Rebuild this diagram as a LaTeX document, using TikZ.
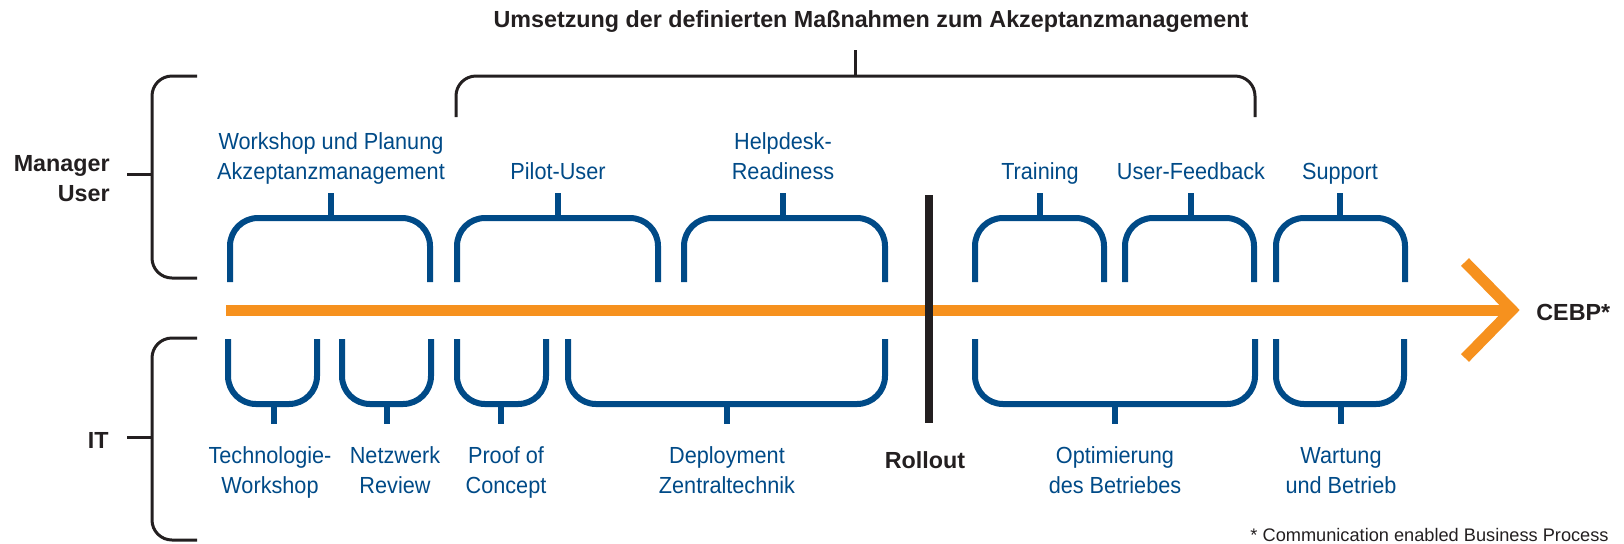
\documentclass[tikz,border=0pt]{standalone}
\usepackage{fontspec}
\setmainfont{Liberation Sans}[FakeStretch=0.93]
\newfontfamily\hdrfont{Liberation Sans}
\usepackage{tikz}
\usetikzlibrary{arrows.meta}
\definecolor{cebpblue}{RGB}{0,74,135}
\definecolor{cebporange}{RGB}{246,145,30}
\definecolor{cebpdark}{RGB}{35,31,32}

\begin{document}
\begin{tikzpicture}[x=0.5pt,y=-0.5pt,line join=round,
  lbl/.style={text=cebpblue,font=\fontsize{11.65}{15}\selectfont,align=center,inner sep=0pt,anchor=base},
  hdr/.style={text=cebpdark,font=\hdrfont\bfseries\fontsize{11.65}{15}\selectfont,inner sep=0pt,anchor=base},
  phase/.style={draw=cebpblue,line width=3pt,rounded corners=14pt},
  brace/.style={draw=cebpdark,line width=1.5pt,rounded corners=10pt},
]
%%
\useasboundingbox (0,0) rectangle (1624,543);
\node (node_title) at (871,27) [hdr] {Umsetzung der definierten Maßnahmen zum Akzeptanzmanagement};
  \node (node_manager) at (110,201) [hdr,anchor=base east,align=right] {Manager\\User};
  \node (node_it) at (109,448) [hdr,anchor=base east] {IT};
  \node (node_workshop) at (331,179) [lbl] {Workshop und Planung\\Akzeptanzmanagement};
  \node (node_pilot) at (558,179) [lbl] {Pilot-User};
  \node (node_helpdesk) at (783,179) [lbl] {Helpdesk-\\Readiness};
  \node (node_training) at (1040,179) [lbl] {Training};
  \node (node_feedback) at (1191,179) [lbl] {User-Feedback};
  \node (node_support) at (1340,179) [lbl] {Support};
  \node (node_techws) at (270,493) [lbl] {Technologie-\\Workshop};
  \node (node_netreview) at (395,493) [lbl] {Netzwerk\\Review};
  \node (node_poc) at (506,493) [lbl] {Proof of\\Concept};
  \node (node_deploy) at (727,493) [lbl] {Deployment\\Zentraltechnik};
  \node (node_rollout) at (925,468) [hdr] {Rollout};
  \node (node_optim) at (1115,493) [lbl] {Optimierung\\des Betriebes};
  \node (node_wartung) at (1341,493) [lbl] {Wartung\\und Betrieb};
  \node (node_cebp) at (1536,320) [hdr,anchor=base west] {CEBP*};
  \node (node_note) at (1609,541) [hdr,anchor=base east,font=\hdrfont\fontsize{9.1}{11}\selectfont] {* Communication enabled Business Process};
%
\draw [brace] (197,76) -- (152,76) -- (152,278) -- (197,278);
  \draw [brace] (127,174) -- (152,174);
  \draw [brace] (197,338) -- (152,338) -- (152,540) -- (197,540);
  \draw [brace] (127,437) -- (152,437);
  \draw [brace] (456,117) -- (456,76) -- (1255,76) -- (1255,117);
  \draw [brace] (855,76) -- (855,50);
%
\draw [cebporange,line width=5.5pt] (226,310) -- (1508,310);
  \draw [cebporange,line width=5.5pt,line join=miter] (1465,262) -- (1512,310) -- (1465,358);
  \draw [cebpdark,line width=3.8pt] (929,195) -- (929,423);
%
\draw [phase] (230,282) -- (230,218) -- (430,218) -- (430,282);
  \draw [phase] (331,218) -- (331,193);
  \draw [phase] (457,282) -- (457,218) -- (658,218) -- (658,282);
  \draw [phase] (558,218) -- (558,193);
  \draw [phase] (684,282) -- (684,218) -- (885,218) -- (885,282);
  \draw [phase] (783,218) -- (783,193);
  \draw [phase] (975,282) -- (975,218) -- (1104,218) -- (1104,282);
  \draw [phase] (1040,218) -- (1040,193);
  \draw [phase] (1125,282) -- (1125,218) -- (1254,218) -- (1254,282);
  \draw [phase] (1191,218) -- (1191,193);
  \draw [phase] (1276,282) -- (1276,218) -- (1405,218) -- (1405,282);
  \draw [phase] (1340,218) -- (1340,193);
%
\draw [phase] (228,339) -- (228,404) -- (317,404) -- (317,339);
  \draw [phase] (274,404) -- (274,424);
  \draw [phase] (342,339) -- (342,404) -- (431,404) -- (431,339);
  \draw [phase] (387,404) -- (387,424);
  \draw [phase] (457,339) -- (457,404) -- (546,404) -- (546,339);
  \draw [phase] (501,404) -- (501,424);
  \draw [phase] (568,339) -- (568,404) -- (885,404) -- (885,339);
  \draw [phase] (727,404) -- (727,424);
  \draw [phase] (975,339) -- (975,404) -- (1255,404) -- (1255,339);
  \draw [phase] (1115,404) -- (1115,424);
  \draw [phase] (1276,339) -- (1276,404) -- (1404,404) -- (1404,339);
  \draw [phase] (1341,404) -- (1341,424);
%
\end{tikzpicture}
\end{document}
